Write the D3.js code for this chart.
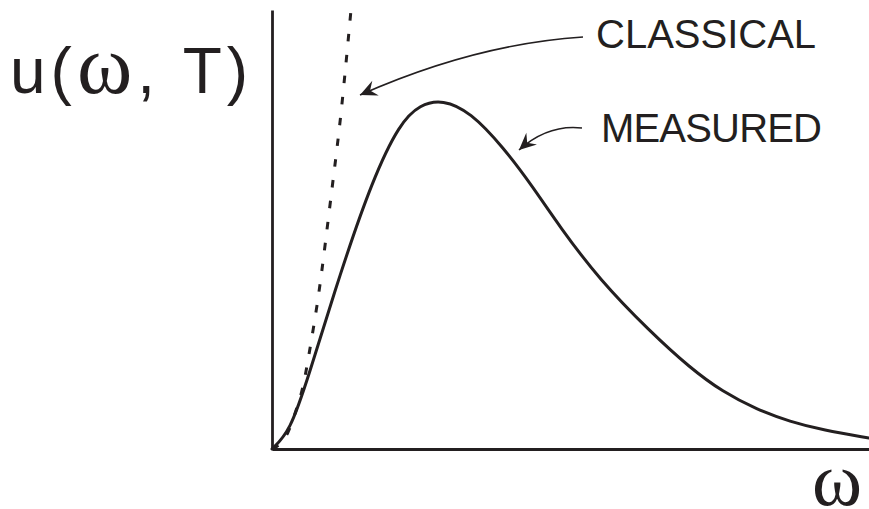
<!DOCTYPE html>
<html>
<head>
<meta charset="UTF-8" />
<title>Blackbody spectrum</title>
<script src="https://d3js.org/d3.v7.min.js"></script>
<style>
  body { margin: 0; background: #fff; }
  svg { display: block; }
  .lbl { font-family: "Liberation Sans", Arial, sans-serif; fill: #231f20; }
  .greek { font-family: "Liberation Serif", "Times New Roman", serif; }
</style>
</head>
<body>
<svg id="chart"></svg>
<script>
  // measured curve (omega, u)
  const measuredW = [0, 0.30, 0.60, 1.14, 1.69, 2.14, 2.48, 2.86, 3.32, 3.87, 4.37, 4.82, 5.49, 6.33, 7.00, 7.55, 8.12, 8.68, 9.23, 10.0];
  const measuredU = [0, 0.040, 0.160, 0.400, 0.616, 0.742, 0.785, 0.796, 0.768, 0.688, 0.597, 0.506, 0.385, 0.268, 0.185, 0.130, 0.090, 0.062, 0.043, 0.025];

  // classical (Rayleigh-Jeans) dashed curve
  const classicalW = [0, 0.134, 0.268, 0.385, 0.503, 0.570, 0.754, 0.854, 1.022, 1.156, 1.323];
  const classicalU = [0, 0.009, 0.034, 0.080, 0.130, 0.175, 0.323, 0.424, 0.613, 0.756, 1.000];

  const labels = { y: "u(", yOmega: "\u03C9", yRest: ", T)", x: "\u03C9", classical: "CLASSICAL", measured: "MEASURED" };

  const width = 869, height = 509;
  const ink = "#231f20";

  const svg = d3.select("#chart").attr("width", width).attr("height", height);

  const x = d3.scaleLinear().domain([0, 10]).range([272, 869]);
  const y = d3.scaleLinear().domain([0, 1]).range([449, 10]);

  // axes: just the domain lines, no ticks
  svg.append("g").attr("transform", `translate(0,${y(0)})`)
    .call(d3.axisBottom(x).ticks(0).tickSizeOuter(0));
  svg.append("g").attr("transform", `translate(${x(0)},0)`)
    .call(d3.axisLeft(y).ticks(0).tickSizeOuter(0));
  svg.selectAll(".domain").attr("stroke", ink).attr("stroke-width", 2.8);

  const line = d3.line()
    .x(d => x(d[0]))
    .y(d => y(d[1]))
    .curve(d3.curveBasis);

  const measured = measuredW.map((w, i) => [w, measuredU[i]]);
  const classical = classicalW.map((w, i) => [w, classicalU[i]]);

  svg.append("path")
    .datum(classical)
    .attr("d", line)
    .attr("fill", "none")
    .attr("stroke", ink)
    .attr("stroke-width", 3)
    .attr("stroke-dasharray", "7.5,13.5");

  svg.append("path")
    .datum(measured)
    .attr("d", line)
    .attr("fill", "none")
    .attr("stroke", ink)
    .attr("stroke-width", 3)
    .attr("stroke-linecap", "round");

  // arrow heads
  svg.append("defs").append("marker")
    .attr("id", "head")
    .attr("viewBox", "-18 -9 20 18")
    .attr("markerUnits", "userSpaceOnUse")
    .attr("markerWidth", 20)
    .attr("markerHeight", 18)
    .attr("refX", 0).attr("refY", 0)
    .attr("orient", "auto")
    .append("path")
    .attr("d", "M0,0 L-17,-8 L-11,0 L-17,8 Z")
    .attr("fill", ink);

  // annotation arrows: start, control, end
  const arrows = [
    [[583, 37], [475, 44], [360, 95]],
    [[582, 128], [548, 124], [519, 150]]
  ];
  arrows.forEach(a => {
    const p = d3.path();
    p.moveTo(a[0][0], a[0][1]);
    p.quadraticCurveTo(a[1][0], a[1][1], a[2][0], a[2][1]);
    svg.append("path")
      .attr("d", p.toString())
      .attr("fill", "none")
      .attr("stroke", ink)
      .attr("stroke-width", 1.6)
      .attr("marker-end", "url(#head)");
  });

  svg.append("text").attr("class", "lbl")
    .attr("x", 596).attr("y", 48)
    .attr("font-size", 40)
    .text(labels.classical);

  svg.append("text").attr("class", "lbl")
    .attr("x", 601).attr("y", 142)
    .attr("font-size", 40)
    .attr("textLength", 221)
    .text(labels.measured);

  // y label
  const yl = svg.append("text").attr("class", "lbl")
    .attr("x", 10).attr("y", 93)
    .attr("font-size", 64)
    .attr("letter-spacing", 5);
  yl.append("tspan").text(labels.y);
  yl.append("tspan").attr("class", "greek").attr("font-size", 84).text(labels.yOmega);
  yl.append("tspan").text(labels.yRest);

  // x label
  svg.append("text").attr("class", "lbl greek")
    .attr("x", 862).attr("y", 505)
    .attr("text-anchor", "end")
    .attr("font-size", 76)
    .text(labels.x);
</script>
</body>
</html>
